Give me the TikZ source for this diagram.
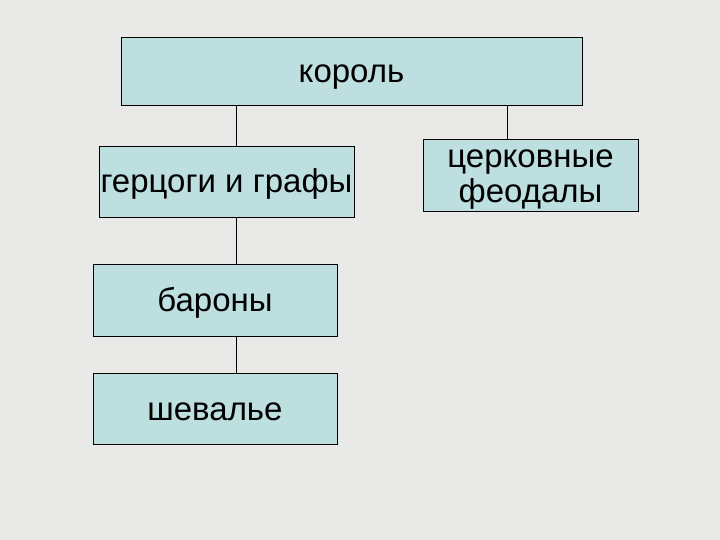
\documentclass[tikz,border=0pt]{standalone}
\usepackage{fontspec}
\setmainfont{Liberation Sans}
\usetikzlibrary{positioning}

\definecolor{slidebg}{RGB}{233,233,232}
\definecolor{boxfill}{RGB}{190,223,224}

\tikzset{
  box/.style={draw=black, fill=boxfill, line width=0.9pt, inner sep=0pt, align=center, font=\fontsize{33}{35}\selectfont},
  rank/.style={box, text height=23pt, text depth=0pt},
  link/.style={draw=black, line width=0.9pt}
}

\begin{document}
\begin{tikzpicture}[x=1pt,y=-1pt]

%slide background
\fill[slidebg] (0,0) rectangle (720,540);
\useasboundingbox (0,0) rectangle (720,540);

%the boxes
\node[rank, minimum width=461pt, minimum height=68pt] (korol) at (351.5,71) {король};
\node[rank, minimum width=255pt, minimum height=71pt] (gercogi) at (226.5,181.5) {герцоги и графы};
\node[box, text height=56pt, text depth=0pt, minimum width=215pt, minimum height=72pt] (cerkov) at (530.5,175) {церковные\\феодалы};
\node[rank, minimum width=244pt, minimum height=72pt] (barony) at (215,300) {бароны};
\node[rank, minimum width=244pt, minimum height=71pt] (sheval) at (215,408.5) {шевалье};

%where the lines run
\coordinate (leftx) at (236,0);
\coordinate (rightx) at (507,0);

%the lines
\draw[link] (korol.south -| leftx) -- (gercogi.north -| leftx);
\draw[link] (korol.south -| rightx) -- (cerkov.north -| rightx);
\draw[link] (gercogi.south -| leftx) -- (barony.north -| leftx);
\draw[link] (barony.south -| leftx) -- (sheval.north -| leftx);

\end{tikzpicture}
\end{document}
